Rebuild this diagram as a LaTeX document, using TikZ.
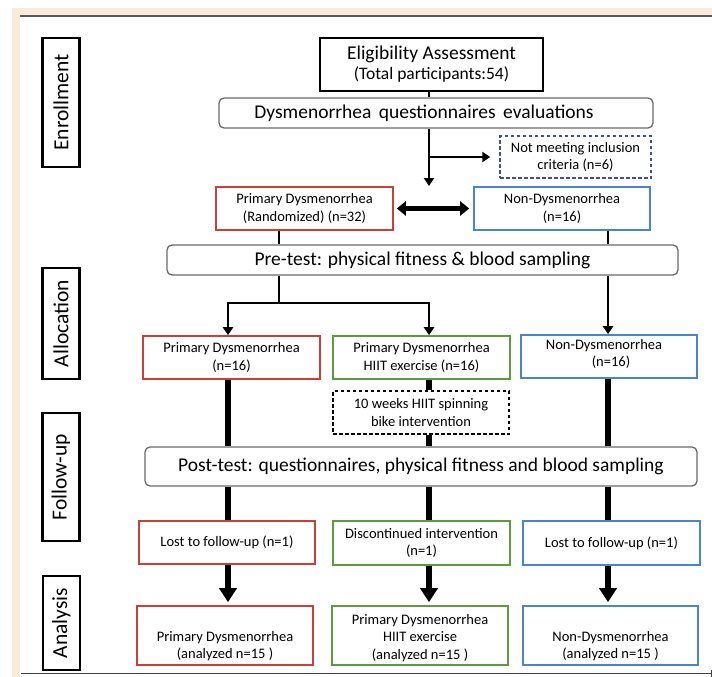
\documentclass[tikz,border=0pt]{standalone}
\usepackage{fontspec}
\setmainfont{Carlito}
\usetikzlibrary{arrows.meta}
\definecolor{beige}{HTML}{F9EADA}
\definecolor{rbox}{HTML}{C8403A}
\definecolor{bbox}{HTML}{4A85C5}
\definecolor{gbox}{HTML}{5E9A3E}
\definecolor{navy}{HTML}{3F4F9C}
\definecolor{rgrey}{HTML}{6A6A6A}
\newcommand{\bigf}{\fontsize{19.5}{23}\selectfont}
\newcommand{\smallf}{\fontsize{14.5}{17.5}\selectfont}
\newcommand{\secf}{\fontsize{21.5}{24}\selectfont}
\tikzset{
  secbox/.style={draw=black, line width=2.6pt, rotate=90, minimum width=#1, minimum height=37, inner sep=0, font=\secf},
  plainbox/.style={draw=black, line width=2.2pt, minimum width=223, minimum height=53, inner sep=0, align=center},
  roundbox/.style={draw=rgrey, line width=1.3pt, rounded corners=5pt, inner sep=0, font=\bigf},
  colbox/.style={draw=#1, line width=1.6pt, minimum width=177, minimum height=43, inner sep=0, align=center, font=\smallf},
  dashbox/.style={draw=#1, line width=1.4pt, dash pattern=on 3.5pt off 2.5pt, minimum width=176, minimum height=43, inner sep=0, align=center, font=\smallf},
  thin/.style={line width=2.3pt},
  thinarrow/.style={line width=2.3pt, -{Triangle[length=8pt,width=10pt]}},
  thick/.style={line width=6.5pt},
  thickarrow/.style={line width=6.5pt, -{Triangle[length=14pt,width=17pt]}},
  dblarrow/.style={line width=5pt, {Triangle[length=9pt,width=14pt]}-{Triangle[length=9pt,width=14pt]}}
}
\begin{document}
\begin{tikzpicture}[x=1pt,y=-1pt]
\useasboundingbox (0,0) rectangle (712,677);
% background frame
\fill[white] (0,0) rectangle (712,677);
\fill[beige] (12,8) rectangle (712,677);
\fill[white] (20,17) rectangle (712,677);
\draw[line width=2pt, color=black!65] (20,16.5) -- (712,16.5);
\draw[line width=1.3pt, color=black!75] (21,673.5) -- (712,673.5);
\draw[line width=1pt, color=black!75] (711,670) -- (711,677);

% section labels
\node[secbox=129] (secE) at (61,102.5) {Enrollment};
\node[secbox=111] (secA) at (61,323.5) {Allocation};
\node[secbox=128] (secF) at (61,477) {Follow-up};
\node[secbox=94] (secAn) at (61.5,623) {Analysis};

% columns
\coordinate (c0) at (429,0);
\coordinate (c1) at (228,0);
\coordinate (c2) at (429,0);
\coordinate (c3) at (608,0);
\coordinate (cp) at (279,0);

% enrollment
\node[plainbox] (elig) at (431.5,64.5) {{\fontsize{19.5}{23}\selectfont Eligibility Assessment}\\[3pt]{\fontsize{17.5}{21}\selectfont (Total participants:54)}};
\node[roundbox, minimum width=434, minimum height=30] (quest) at (436,113) {Dysmenorrhea\hspace{3pt} questionnaires\hspace{3pt} evaluations\hspace*{24pt}};
\node[dashbox=navy, minimum width=151, minimum height=42] (notmeet) at (575.5,157) {Not meeting inclusion\\criteria (n=6)};
\node[colbox=rbox] (prand) at (304.5,208.5) {Primary Dysmenorrhea\\(Randomized) (n=32)};
\node[colbox=bbox, minimum width=176] (nond1) at (562,208.5) {Non-Dysmenorrhea\\(n=16)};
\node[roundbox, minimum width=511, minimum height=30] (pre) at (422.5,260) {Pre-test: physical fitness \& blood sampling};

% allocation
\node[colbox=rbox] (pd16) at (231.5,357.5) {Primary Dysmenorrhea\\(n=16)};
\node[colbox=gbox] (hiit16) at (421.5,357.5) {Primary Dysmenorrhea\\HIIT exercise (n=16)};
\node[colbox=bbox, minimum width=176] (nd16) at (609,356.5) {};
\node[font=\smallf, align=center] (nd16t) at (604,354) {Non-Dysmenorrhea\\\hspace{14pt}(n=16)};
\node[dashbox=black] (week) at (421,412.5) {10 weeks HIIT spinning\\bike intervention};
\node[roundbox, minimum width=552, minimum height=39] (post) at (421,466.5) {Post-test: questionnaires, physical fitness and blood sampling};

% follow-up
\node[colbox=rbox, minimum width=176] (lost1) at (227,542.5) {Lost to follow-up (n=1)};
\node[colbox=gbox, minimum height=44] (disc) at (421.5,543) {Discontinued intervention\\(n=1)};
\node[colbox=bbox, minimum height=44] (lost2) at (611.5,543) {Lost to follow-up (n=1)};

% analysis
\node[colbox=rbox, minimum width=176, minimum height=59] (an1) at (225,635.5) {};
\node[font=\smallf, align=center] (an1t) at (225,646) {Primary Dysmenorrhea\\(analyzed n=15 )};
\node[colbox=gbox, minimum width=176, minimum height=59] (an2) at (420,635.5) {};
\node[font=\smallf, align=center] (an2t) at (420,638) {Primary Dysmenorrhea\\HIIT exercise\\(analyzed n=15 )};
\node[colbox=bbox, minimum width=175, minimum height=59] (an3) at (610.5,635.5) {};
\node[font=\smallf, align=center] (an3t) at (610.5,646) {Non-Dysmenorrhea\\(analyzed n=15 )};

% connectors enrollment
\draw[thin] (elig.south -| c0) -- (quest.north -| c0);
\coordinate (split) at (429,157);
\coordinate (dnend) at (429,186);
\draw[thinarrow] (quest.south -| c0) -- (dnend);
\draw[thinarrow, shorten >=9pt] (split) -- (notmeet.west);
\draw[dblarrow] ([xshift=3pt]prand.east) -- ([xshift=-4pt]nond1.west);
\draw[thin] (prand.south -| cp) -- (pre.north -| cp);
\draw[thin] (nond1.south -| c3) -- (pre.north -| c3);

% allocation connectors
\coordinate (bar) at (279,303);
\draw[thin] (pre.south -| cp) -- (bar);
\draw[thinarrow] (bar -| c2) -- (bar -| c1) -- (pd16.north -| c1);
\draw[thinarrow] (bar -| c1) -- (bar -| c2) -- (hiit16.north -| c2);
\draw[thinarrow] (pre.south -| c3) -- (nd16.north -| c3);

% thick connectors
\draw[thick] (pd16.south -| c1) -- (post.north -| c1);
\draw[thick] (hiit16.south -| c2) -- (week.north -| c2);
\draw[thick] (week.south -| c2) -- (post.north -| c2);
\draw[thick] (nd16.south -| c3) -- (post.north -| c3);
\draw[thick] (post.south -| c1) -- (lost1.north -| c1);
\draw[thick] (post.south -| c2) -- (disc.north -| c2);
\draw[thick] (post.south -| c3) -- (lost2.north -| c3);
\draw[thickarrow] (lost1.south -| c1) -- ([yshift=3pt]an1.north -| c1);
\draw[thickarrow] (disc.south -| c2) -- ([yshift=3pt]an2.north -| c2);
\draw[thickarrow] (lost2.south -| c3) -- ([yshift=3pt]an3.north -| c3);
\end{tikzpicture}
\end{document}
